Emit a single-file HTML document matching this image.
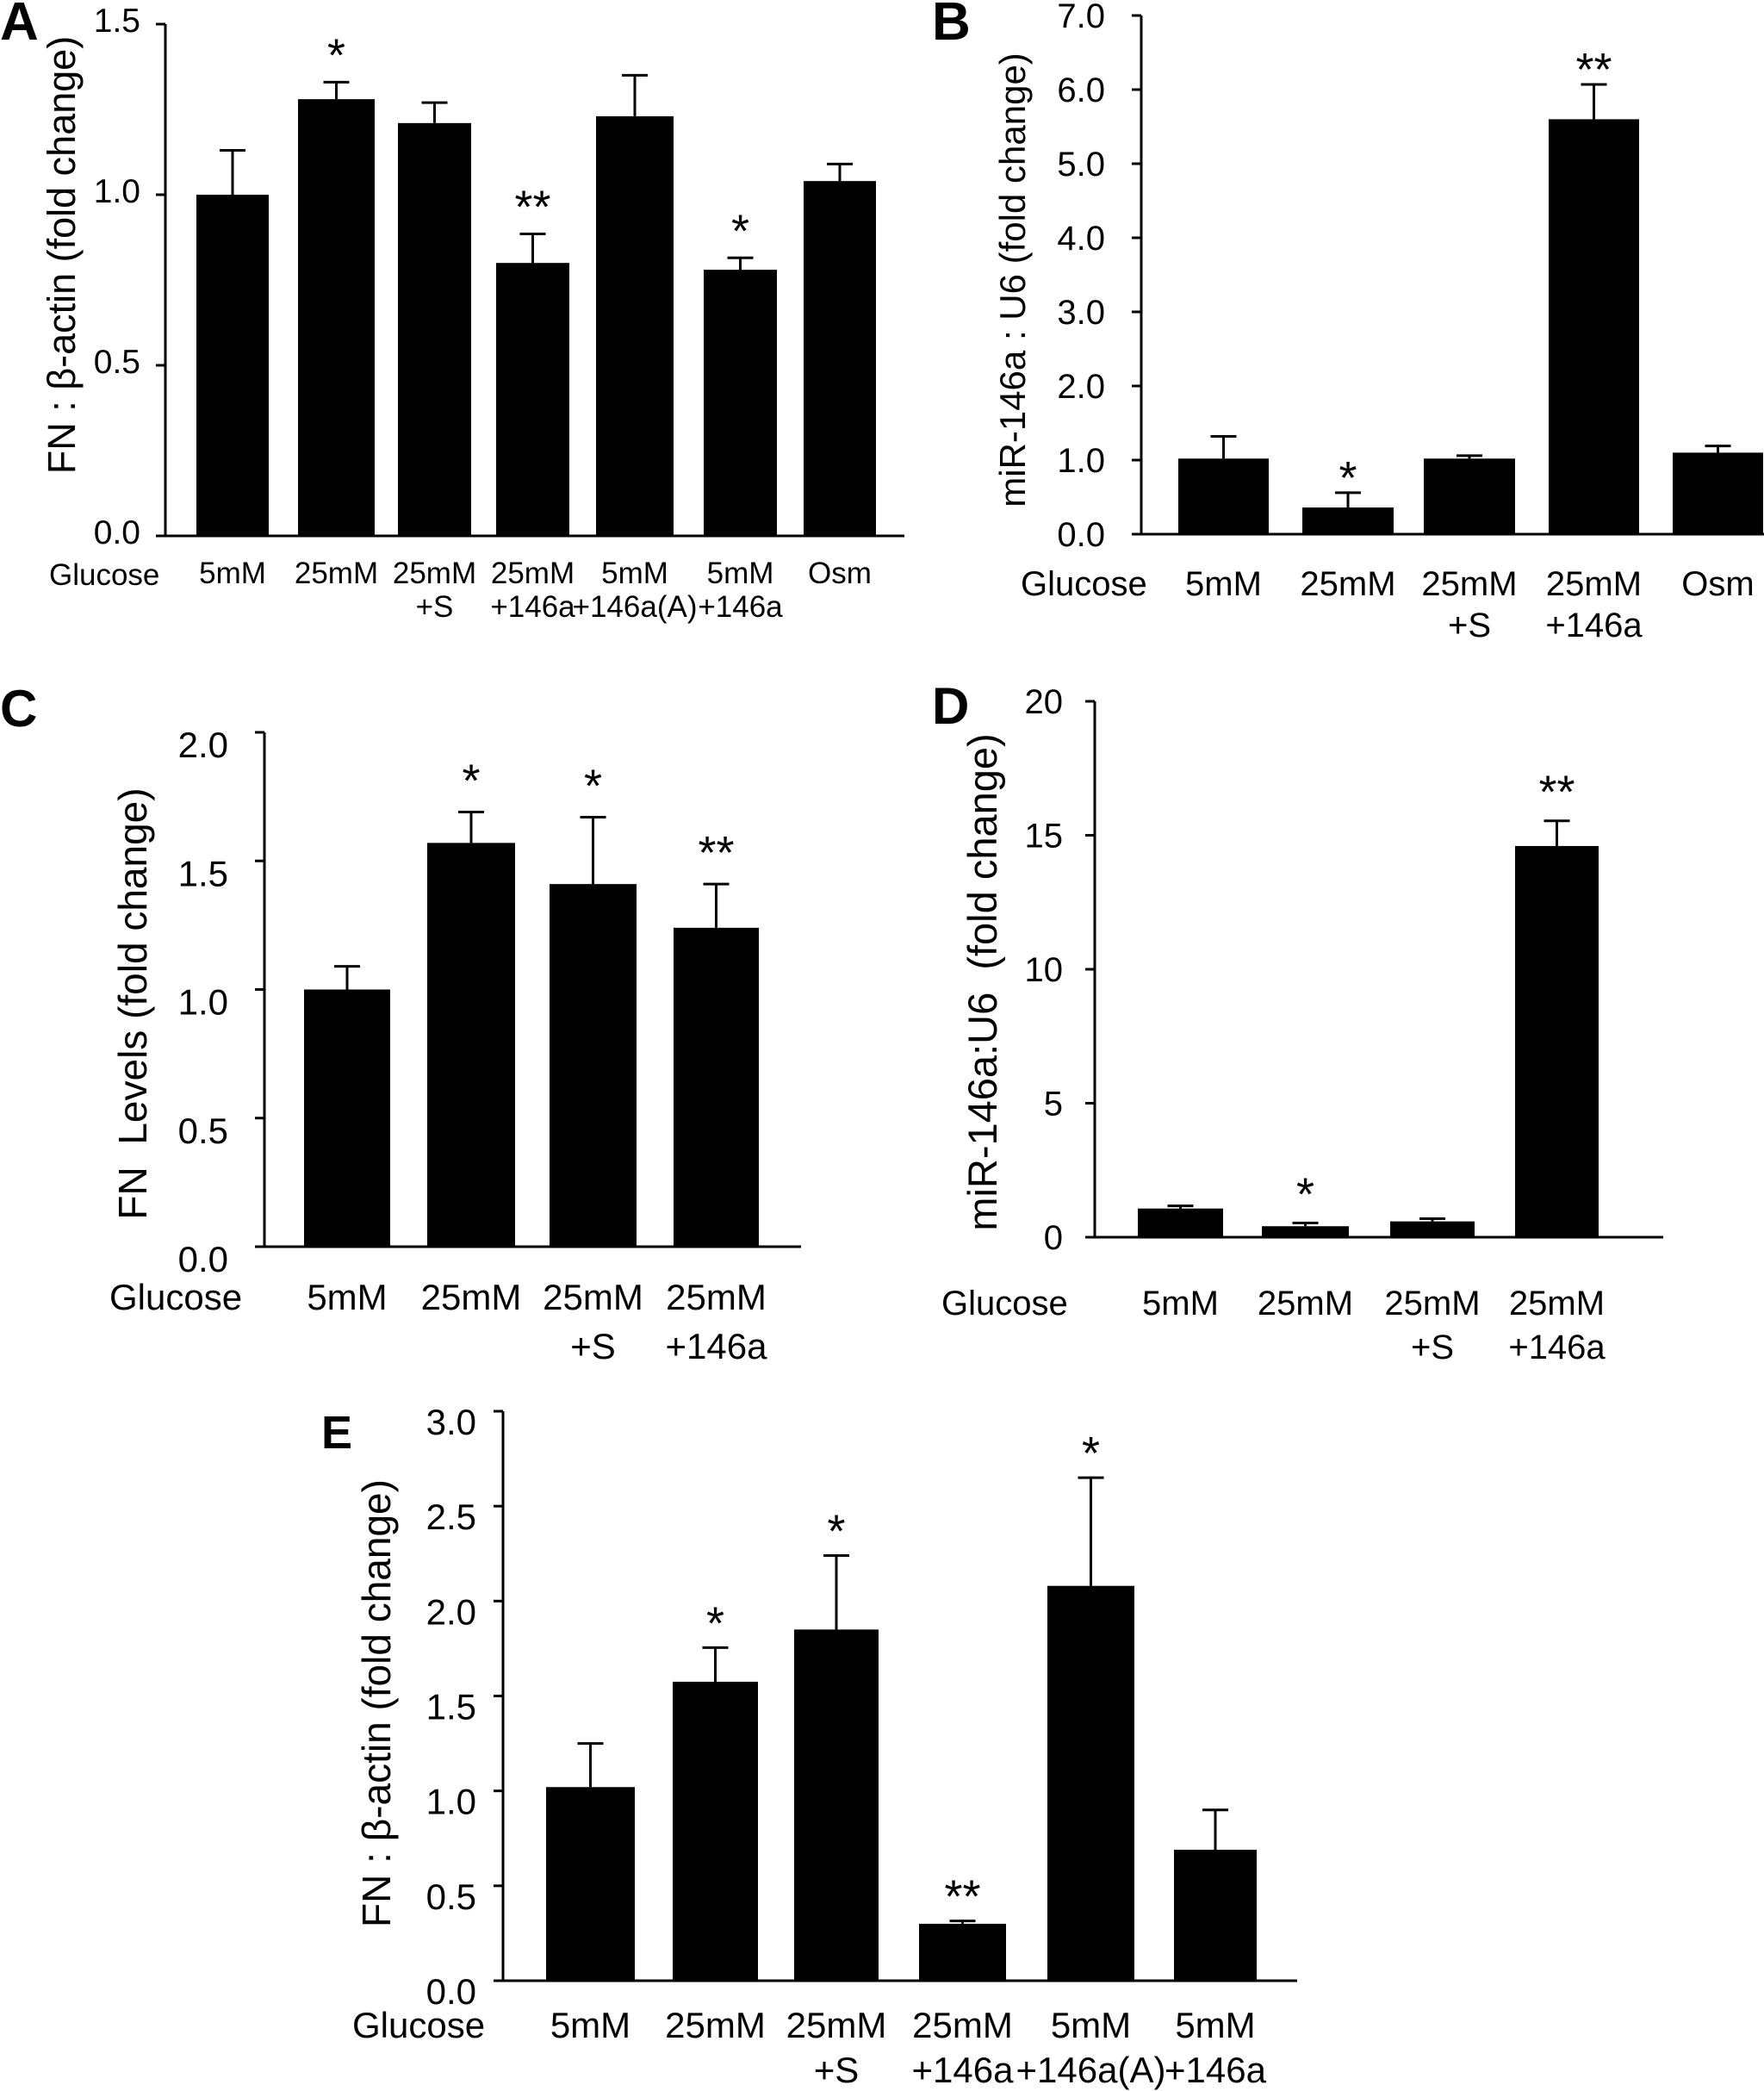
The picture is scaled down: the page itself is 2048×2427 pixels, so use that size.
<!DOCTYPE html>
<html><head><meta charset="utf-8"><style>
html,body{margin:0;padding:0;background:#fff;overflow:hidden;}
svg{display:block;}
text{fill:#000;}
</style></head><body>
<svg id="fig" xmlns="http://www.w3.org/2000/svg" width="2048" height="2427" viewBox="0 0 2048 2427"></svg>
<script>
// Panel A data
const catsA = [["5mM"],["25mM"],["25mM","+S"],["25mM","+146a"],["5mM","+146a(A)"],["5mM","+146a"],["Osm"]];
const valsA = [1.00,1.28,1.21,0.80,1.23,0.78,1.04];
const errA = [0.13,0.05,0.06,0.085,0.12,0.035,0.05];
const starsA = ["","*","","**","","*",""];
const ticksA = ["0.0","0.5","1.0","1.5"];
// Panel B data
const catsB = [["5mM"],["25mM"],["25mM","+S"],["25mM","+146a"],["Osm"]];
const valsB = [1.02,0.36,1.02,5.60,1.10];
const errB = [0.30,0.20,0.04,0.47,0.09];
const starsB = ["","*","","**",""];
const ticksB = ["0.0","1.0","2.0","3.0","4.0","5.0","6.0","7.0"];
// Panel C data
const catsC = [["5mM"],["25mM"],["25mM","+S"],["25mM","+146a"]];
const valsC = [1.00,1.57,1.41,1.24];
const errC = [0.09,0.12,0.26,0.17];
const starsC = ["","*","*","**"];
const ticksC = ["0.0","0.5","1.0","1.5","2.0"];
// Panel D data
const catsD = [["5mM"],["25mM"],["25mM","+S"],["25mM","+146a"]];
const valsD = [1.07,0.41,0.59,14.6];
const errD = [0.10,0.12,0.10,0.94];
const starsD = ["","*","","**"];
const ticksD = ["0","5","10","15","20"];
// Panel E data
const catsE = [["5mM"],["25mM"],["25mM","+S"],["25mM","+146a"],["5mM","+146a(A)"],["5mM","+146a"]];
const valsE = [1.02,1.575,1.85,0.30,2.08,0.69];
const errE = [0.23,0.18,0.39,0.015,0.57,0.21];
const starsE = ["","*","*","**","*",""];
const ticksE = ["0.0","0.5","1.0","1.5","2.0","2.5","3.0"];

const NS="http://www.w3.org/2000/svg";
const svg=document.getElementById('fig');
const FF='"Liberation Sans",sans-serif';
function mk(tag,attrs,parent){const e=document.createElementNS(NS,tag);for(const k in attrs)e.setAttribute(k,attrs[k]);(parent||svg).appendChild(e);return e;}

function panel(p){
  const g=mk('g',{});
  
  
  const y=v=>p.y0-(v/p.max)*(p.y0-p.yTop);
  const L=mk('text',{x:p.letter[0],y:p.letter[1],'font-family':FF,'font-weight':'bold','font-size':p.letterSize},g);
  L.textContent=p.id;
  
  
  p.vals.forEach((v,i)=>{
    const x0=p.bx[i][0],x1=p.bx[i][1],cx=(x0+x1)/2;
    const r=mk('rect',{x:x0,y:y(v),width:x1-x0,height:p.y0-y(v),fill:'#000'},g);
    
    
    const et=y(v+p.err[i]);
    const e=mk('path',{d:`M${cx},${y(v)}V${et}M${cx-15},${et}H${cx+15}`,stroke:'#000','stroke-width':3,fill:'none'},g);
    
    
    if(p.stars[i]){
      const s=mk('text',{x:cx,y:et-p.starGap+31,'text-anchor':'middle','font-family':FF,'font-size':54},g);
      s.textContent=p.stars[i];
      
      
    }
    p.cats[i].forEach((ln,j)=>{
      const t=mk('text',{x:cx,y:p.lab[0]+j*p.lab[1],'text-anchor':'middle','font-family':FF,'font-size':p.labSize},g);
      t.textContent=ln;
      
      
    });
  });
  const ax=mk('path',{d:`M${p.ax},${p.yTop}V${p.y0}M${p.ax},${p.y0}H${p.axEnd}`,stroke:'#000','stroke-width':3,fill:'none'},g);
  
  
  p.ticks.forEach(tk=>{
    const v=parseFloat(tk),ty=y(v);
    const l=mk('line',{x1:p.ax-11,x2:p.ax,y1:ty,y2:ty,stroke:'#000','stroke-width':3},g);
    
    
    const t=mk('text',{x:p.ax-p.tickGap,y:ty+p.tickOff,'text-anchor':'end','font-family':FF,'font-size':p.tickSize},g);
    t.textContent=tk;
    
    
  });
  const gl=mk('text',{x:p.glu[0],y:p.glu[1],'font-family':FF,'font-size':p.labSize},g);
  gl.textContent='Glucose';
  
  
  const yt=mk('text',{x:0,y:0,transform:`translate(${p.yt[0]},${p.yt[1]}) rotate(-90)`,'text-anchor':'middle','font-family':FF,'font-size':p.ytSize},g);
  yt.textContent=p.ytitle;
  
  
}

panel({id:'A',letter:[0,46],letterSize:62,cats:catsA,vals:valsA,err:errA,stars:starsA,ticks:ticksA,max:1.5,
  y0:622,yTop:28,ax:192,axEnd:1050,bx:[[228,312],[346,435],[462,547],[576,661],[692,782],[817,902],[933,1017]],
  lab:[677,39],labSize:35,tickSize:39,tickGap:29,tickOff:9,starGap:44,glu:[57,679],yt:[87,296],ytSize:45,ytitle:'FN : β-actin (fold change)'});
panel({id:'B',letter:[1082,46],letterSize:62,cats:catsB,vals:valsB,err:errB,stars:starsB,ticks:ticksB,max:7,
  y0:620,yTop:18,ax:1325,axEnd:2048,bx:[[1368,1473],[1512,1618],[1653,1759],[1798,1903],[1942,2047]],
  lab:[691,48],labSize:40,tickSize:40,tickGap:42,tickOff:14,starGap:30,glu:[1185,691],yt:[1190,325],ytSize:42,ytitle:'miR-146a : U6 (fold change)'});
panel({id:'C',letter:[0,843],letterSize:60,cats:catsC,vals:valsC,err:errC,stars:starsC,ticks:ticksC,max:2,
  y0:1447,yTop:850,ax:307,axEnd:930,bx:[[353,453],[496,598],[638,739],[782,881]],
  lab:[1520,57],labSize:42,tickSize:42,tickGap:42,tickOff:29,starGap:49,glu:[127,1520],yt:[170,1165],ytSize:46,ytitle:'FN\u00a0\u00a0Levels (fold change)'});
panel({id:'D',letter:[1082,840],letterSize:60,cats:catsD,vals:valsD,err:errD,stars:starsD,ticks:ticksD,max:20,
  y0:1436,yTop:814,ax:1271,axEnd:1931,bx:[[1321,1420],[1465,1566],[1614,1712],[1759,1856]],
  lab:[1526,51],labSize:40,tickSize:40,tickGap:37,tickOff:14,starGap:46,glu:[1093,1526],yt:[1157,1140],ytSize:47,ytitle:'miR-146a:U6\u00a0\u00a0(fold change)'});
panel({id:'E',letter:[373,1681],letterSize:54,cats:catsE,vals:valsE,err:errE,stars:starsE,ticks:ticksE,max:3,
  y0:2299,yTop:1638,ax:584,axEnd:1506,bx:[[634,737],[781,880],[922,1020],[1067,1168],[1216,1317],[1363,1459]],
  lab:[2365,52],labSize:42,tickSize:42,tickGap:31,tickOff:27,starGap:41,glu:[409,2365],yt:[453,1977],ytSize:46,ytitle:'FN : β-actin (fold change)'});
</script>
</body></html>
